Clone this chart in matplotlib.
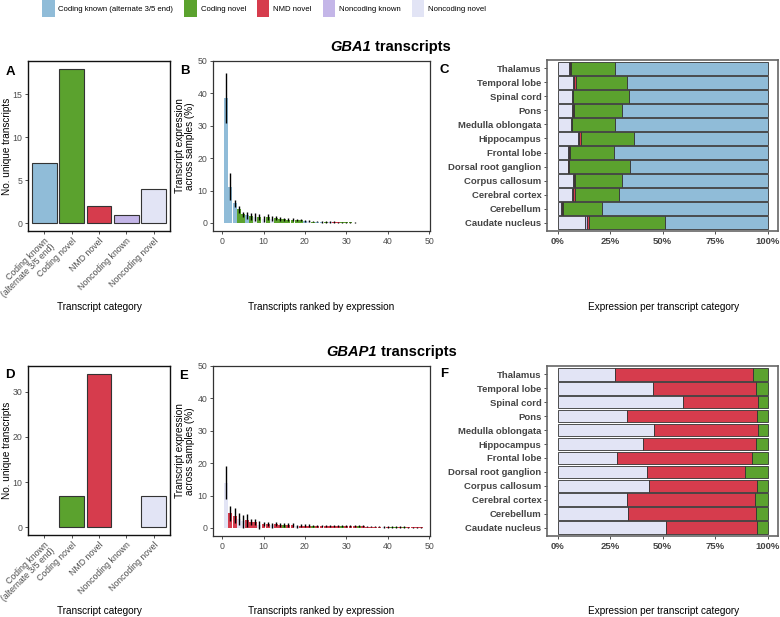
import matplotlib
matplotlib.use("Agg")
import matplotlib.pyplot as plt
from matplotlib.patches import Patch

plt.rcParams['font.family'] = ['Liberation Sans', 'DejaVu Sans']

# categories and colours
categories = ["Coding known (alternate 3/5 end)", "Coding novel", "NMD novel",
              "Noncoding known", "Noncoding novel"]
cat_codes = ["ck", "cn", "nmd", "nk", "nn"]
colors = {"ck": "#90BCD8", "cn": "#5BA22E", "nmd": "#D63C4D",
          "nk": "#C4B6E8", "nn": "#E2E4F5"}
xtick_a = ["Coding known\n(alternate 3/5 end)", "Coding novel", "NMD novel",
           "Noncoding known", "Noncoding novel"]

# A / D: number of unique transcripts
counts_gba1 = [7, 18, 2, 1, 4]
counts_gbap1 = [0, 7, 34, 0, 7]

# B: GBA1 transcripts ranked by expression
expr_gba1 = [38.5, 11.2, 6.0, 4.2, 2.6, 2.3, 2.0, 1.8, 1.8, 1.3, 1.7, 1.3, 1.5, 1.2,
             1.1, 1.0, 1.0, 0.9, 0.8, 0.7, 0.5, 0.4, 0.35, 0.3, 0.3, 0.3, 0.3, 0.25,
             0.2, 0.2, 0.15, 0.1]
sd_gba1 = [7.7, 4.2, 1.0, 1.0, 0.9, 1.1, 1.0, 1.2, 1.0, 0.9, 0.9, 0.8, 0.7, 0.6,
           0.5, 0.5, 0.5, 0.4, 0.3, 0.3, 0.25, 0.2, 0.2, 0.2, 0.2, 0.2, 0.2, 0.15,
           0.15, 0.1, 0.1, 0.1]
cat_gba1 = ["ck", "ck", "ck", "cn", "cn", "ck", "cn", "nn", "cn", "nn", "cn", "nn",
            "cn", "cn", "cn", "cn", "cn", "cn", "cn", "ck", "nn", "cn", "ck", "ck",
            "cn", "nk", "nmd", "nmd", "cn", "cn", "cn", "cn"]

# E: GBAP1 transcripts ranked by expression
expr_gbap1 = [14.0, 4.5, 3.8, 2.8, 2.0, 2.3, 1.8, 1.8, 1.0, 1.2, 1.2, 0.8, 1.2, 1.0,
              1.0, 0.9, 0.9, 0.5, 0.7, 0.7, 0.7, 0.6, 0.6, 0.6, 0.5, 0.5, 0.5, 0.5,
              0.5, 0.5, 0.5, 0.45, 0.45, 0.45, 0.4, 0.4, 0.4, 0.4, 0.3, 0.3, 0.3,
              0.3, 0.3, 0.3, 0.25, 0.25, 0.2, 0.2]
sd_gbap1 = [5.0, 2.3, 2.4, 1.9, 1.9, 1.9, 1.0, 0.9, 1.2, 0.6, 0.6, 0.7, 0.7, 0.6,
            0.6, 0.5, 0.5, 0.4, 0.4, 0.4, 0.4, 0.4, 0.4, 0.3, 0.3, 0.3, 0.3, 0.3,
            0.3, 0.3, 0.3, 0.3, 0.3, 0.3, 0.25, 0.25, 0.25, 0.25, 0.2, 0.2, 0.2,
            0.2, 0.2, 0.2, 0.15, 0.15, 0.15, 0.15]
cat_gbap1 = ["nn", "nmd", "nmd", "nn", "nn", "nmd", "nmd", "nmd", "nn", "nmd", "nmd",
             "nn", "nmd", "nmd", "cn", "nmd", "nmd", "nn", "nmd", "nmd", "nmd", "cn",
             "nmd", "nmd", "nmd", "nmd", "nmd", "nmd", "cn", "nmd", "nmd", "nmd",
             "cn", "nmd", "nmd", "nmd", "nmd", "nmd", "nn", "nmd", "cn", "cn", "nmd",
             "cn", "nmd", "nmd", "nmd", "nmd"]

# C / F: expression per transcript category (%), bottom to top
tissues = ["Caudate nucleus", "Cerebellum", "Cerebral cortex", "Corpus callosum",
           "Dorsal root ganglion", "Frontal lobe", "Hippocampus", "Medulla oblongata",
           "Pons", "Spinal cord", "Temporal lobe", "Thalamus"]
c_nn = [13.0, 1.8, 7.0, 7.4, 5.0, 5.2, 9.7, 6.5, 7.0, 7.0, 7.6, 5.5]
c_nk = [0.9, 0.3, 0.4, 0.5, 0.2, 0.4, 0.6, 0.3, 0.4, 0.3, 0.4, 0.5]
c_nmd = [1.0, 0.3, 0.8, 0.3, 0.2, 0.3, 0.7, 0.3, 0.3, 0.3, 0.6, 0.4]
c_cn = [36.1, 18.8, 21.3, 22.4, 29.0, 20.9, 25.6, 20.2, 23.0, 26.3, 24.4, 20.9]
c_ck = [49.0, 78.8, 70.5, 69.4, 65.6, 73.2, 63.4, 72.7, 69.3, 66.1, 67.0, 72.7]

f_nn = [51.8, 33.8, 33.3, 43.7, 42.5, 28.4, 40.9, 46.1, 33.1, 59.6, 45.3, 27.4]
f_nmd = [43.4, 60.8, 60.8, 51.5, 46.9, 64.3, 53.6, 49.5, 61.7, 36.0, 49.2, 65.8]
f_cn = [4.8, 5.4, 5.9, 4.8, 10.6, 7.3, 5.5, 4.4, 5.2, 4.4, 5.5, 6.8]

W, H = 780, 617
fig = plt.figure(figsize=(W / 100, H / 100), dpi=100)


def px_axes(left, right, top, bottom):
    return fig.add_axes([left / W, 1 - bottom / H, (right - left) / W, (bottom - top) / H])


def style(ax, spine_color="#333333", lw=0.9):
    for s in ax.spines.values():
        s.set_color(spine_color)
        s.set_linewidth(lw)
    ax.tick_params(length=2.5, width=0.6, color="#333333", labelcolor="#4d4d4d",
                   labelsize=6.3, pad=1.5)


def count_panel(ax, counts, step):
    x = list(range(len(counts)))
    ax.bar(x, counts, width=0.9, color=[colors[c] for c in cat_codes],
           edgecolor="#333333", linewidth=[0.8 if c > 0 else 0 for c in counts])
    ax.set_xlim(-0.6, 4.6)
    top = max(counts)
    ax.set_ylim(-0.05 * top, 1.05 * top)
    ax.set_xticks(x)
    ax.set_yticks(range(0, top + 1, step))
    ax.set_xticklabels(xtick_a, rotation=45, ha="right", va="top",
                       rotation_mode="anchor", linespacing=0.9)
    ax.set_ylabel("No. unique transcripts", fontsize=7.2, labelpad=0.5)
    style(ax, "#111111", 1.0)


def rank_panel(ax, vals, sds, cats):
    x = list(range(1, len(vals) + 1))
    ax.bar(x, vals, width=0.95, color=[colors[c] for c in cats], linewidth=0)
    ax.errorbar(x, vals, yerr=sds, fmt="none", ecolor="black", elinewidth=1.0,
                capsize=0)
    ax.set_xlim(-2.2, 50.2)
    ax.set_ylim(-2.5, 50)
    ax.set_xticks([0, 10, 20, 30, 40, 50])
    ax.set_yticks([0, 10, 20, 30, 40, 50])
    ax.set_ylabel("Transcript expression\nacross samples (%)", fontsize=7.2,
                  labelpad=2, linespacing=1.0)
    style(ax)


def stack_panel(ax, parts):
    left = [0.0] * len(tissues)
    for code, vals in parts:
        ax.barh(tissues, vals, left=left, height=0.9, color=colors[code],
                edgecolor="#333333", linewidth=0.6)
        left = [l + v for l, v in zip(left, vals)]
    ax.set_xlim(-5, 105)
    ax.set_ylim(-0.6, len(tissues) - 0.4)
    ax.set_xticks([0, 25, 50, 75, 100])
    ax.set_xticklabels(["0%", "25%", "50%", "75%", "100%"])
    style(ax, "#666666", 1.2)
    ax.tick_params(labelsize=6.8)
    for t in ax.get_xticklabels() + ax.get_yticklabels():
        t.set_fontweight("bold")
        t.set_color("#444444")


# top row: GBA1
axA = px_axes(28, 170, 61, 231)
count_panel(axA, counts_gba1, 5)
axB = px_axes(213, 430, 61, 231)
rank_panel(axB, expr_gba1, sd_gba1, cat_gba1)
axC = px_axes(547, 778, 60, 231)
stack_panel(axC, [("nn", c_nn), ("nk", c_nk), ("nmd", c_nmd), ("cn", c_cn), ("ck", c_ck)])

# bottom row: GBAP1
axD = px_axes(28, 170, 366, 535)
count_panel(axD, counts_gbap1, 10)
axE = px_axes(213, 430, 366, 536)
rank_panel(axE, expr_gbap1, sd_gbap1, cat_gbap1)
axF = px_axes(547, 778, 366, 536)
stack_panel(axF, [("nn", f_nn), ("nmd", f_nmd), ("cn", f_cn)])

# x axis titles
for y in (307, 611):
    fig.text(99 / W, 1 - y / H, "Transcript category", fontsize=7.2, ha="center", va="center")
    fig.text(321 / W, 1 - y / H, "Transcripts ranked by expression", fontsize=7.2,
             ha="center", va="center")
    fig.text(664 / W, 1 - y / H, "Expression per transcript category", fontsize=7.2,
             ha="center", va="center")

# panel letters
for lab, x, y in [("A", 10, 72), ("B", 185, 71), ("C", 444, 70),
                  ("D", 10, 375), ("E", 184, 376), ("F", 444, 374)]:
    fig.text(x / W, 1 - y / H, lab, fontsize=9.5, fontweight="bold", ha="center", va="center")

# row titles
for gene, split, y in [("GBA1", 371, 47), ("GBAP1", 377, 352)]:
    fig.text(split / W, 1 - y / H, gene, fontsize=10.5, fontweight="bold", style="italic",
             ha="right", va="center")
    fig.text(split / W, 1 - y / H, " transcripts", fontsize=10.5, fontweight="bold",
             ha="left", va="center")

# legend
handles = [Patch(facecolor=colors[c], edgecolor="none", label=n)
           for c, n in zip(cat_codes, categories)]
fig.legend(handles=handles, loc="upper center", bbox_to_anchor=(264 / W, 1.0),
           ncol=5, frameon=False, fontsize=5.6, handlelength=1.6, handleheight=2.9,
           handletextpad=0.5, columnspacing=1.4, borderaxespad=0.0, borderpad=0.0)

fig.savefig("out.png", dpi=100)
